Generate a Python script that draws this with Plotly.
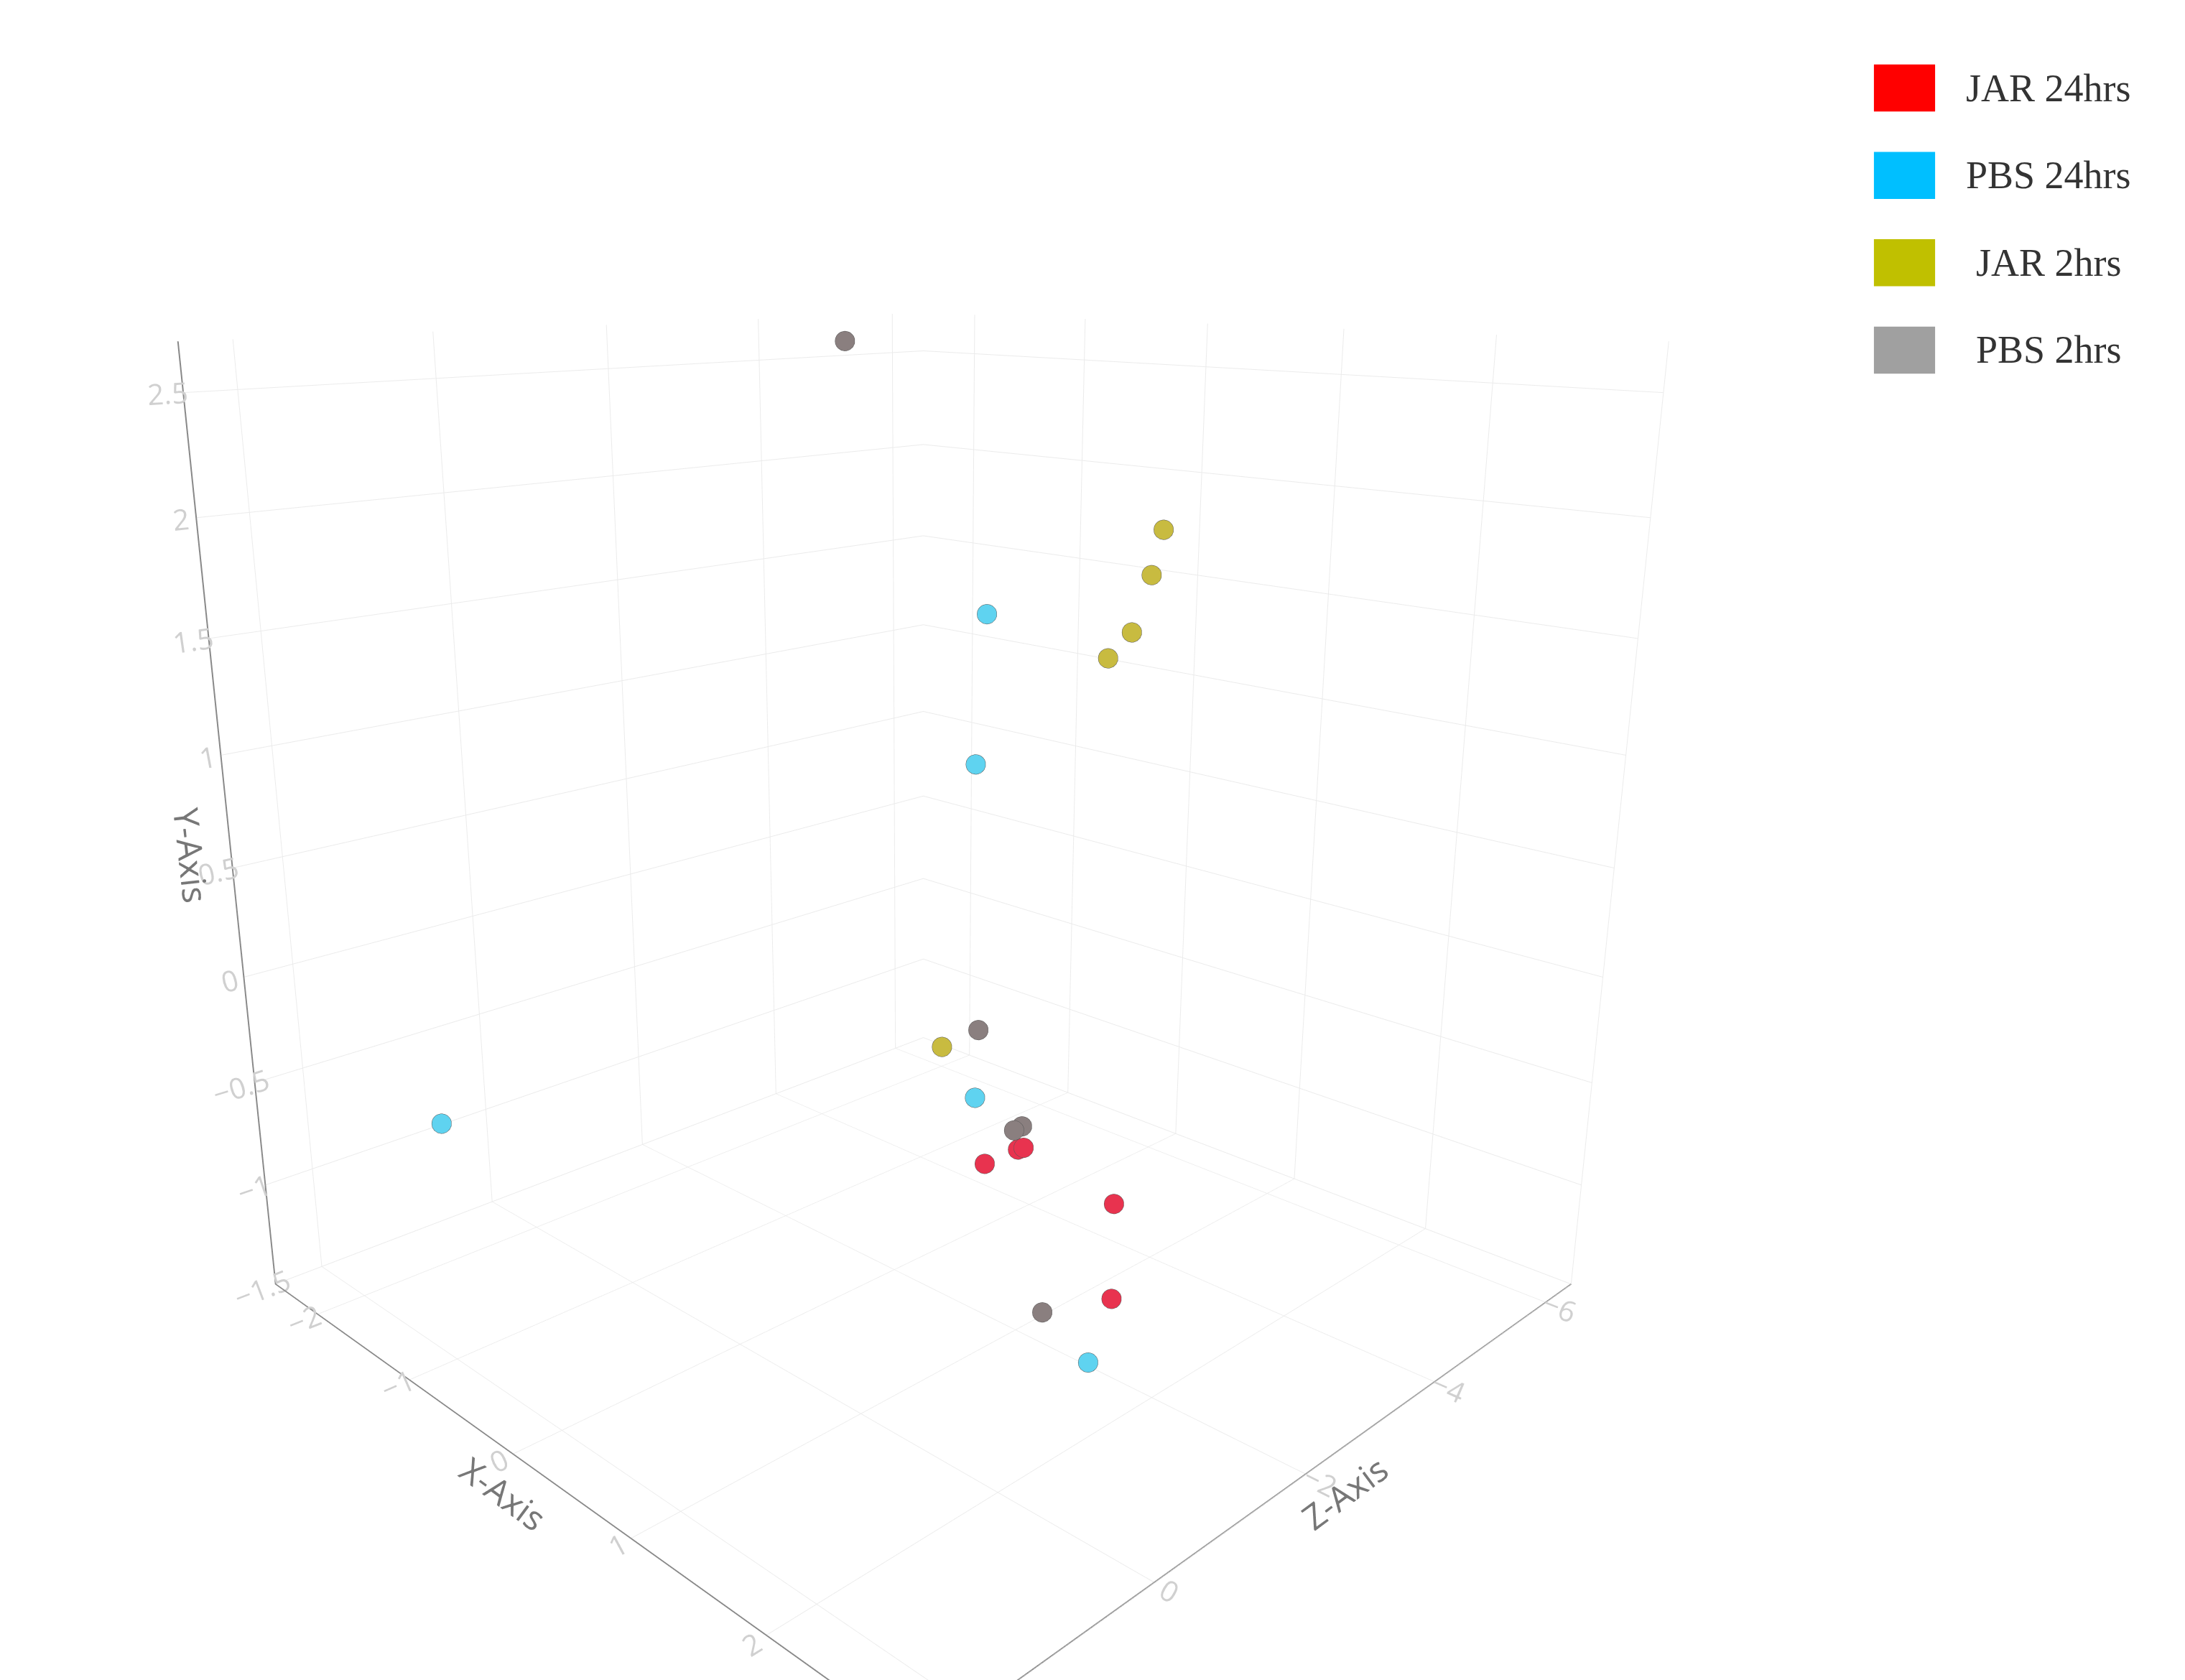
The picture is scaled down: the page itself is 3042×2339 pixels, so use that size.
import plotly.graph_objects as go

groups = ["JAR 24hrs", "PBS 24hrs", "JAR 2hrs", "PBS 2hrs"]
colors = ["#e8334f", "#5fd3f0", "#c8bb40", "#8a7f7f"]
legend_colors = ["#ff0000", "#00bfff", "#c0c000", "#a0a0a0"]

jar24_x = [1.2, 1.6, 0.6, 0.4, 0.5]
jar24_y = [-1.0, -1.2, -0.85, -0.95, -0.9]
jar24_z = [-3.0, -2.2, -2.8, -2.6, -2.9]

pbs24_x = [-1.0, -0.8, 0.2, 1.8, -1.5]
pbs24_y = [1.3, 0.6, -0.7, -1.3, -0.6]
pbs24_z = [-5.0, -4.5, -2.8, -1.5, 1.5]

jar2_x = [2.6, 2.3, 1.8, 1.3, -0.5]
jar2_y = [2.2, 2.0, 1.7, 1.5, -0.7]
jar2_z = [-0.5, -1.0, -1.8, -2.5, -3.5]

pbs2_x = [0.8, 0.3, 0.2, 1.2, -2.0]
pbs2_y = [-0.1, -0.9, -0.95, -1.35, 2.6]
pbs2_z = [-1.8, -3.2, -3.5, -2.0, -4.5]

series = [(jar24_x, jar24_y, jar24_z), (pbs24_x, pbs24_y, pbs24_z),
          (jar2_x, jar2_y, jar2_z), (pbs2_x, pbs2_y, pbs2_z)]

fig = go.Figure()
for name, col, (xs, ys, zs) in zip(groups, colors, series):
    fig.add_trace(go.Scatter3d(x=zs, y=xs, z=ys, mode="markers", name=name, showlegend=False,
                               marker=dict(size=16, color=col, line=dict(color="#555", width=2))))

def ax(title, rng):
    return dict(showbackground=False, gridcolor="#ebebeb", showline=True, linecolor="#888", linewidth=4,
                zeroline=False, tickfont=dict(size=22, color="#d0d0d0"), range=rng,
                title=dict(text=title, font=dict(size=48, color="#777", family="Open Sans")))

fig.update_layout(
    width=3042, height=2339, paper_bgcolor="white", showlegend=False,
    margin=dict(l=0, r=0, t=0, b=0),
    scene=dict(
        domain=dict(x=[0, 0.84], y=[0, 1]),
        xaxis=ax("Z-Axis", [-6.5, 2.5]),
        yaxis=ax("X-Axis", [-2.5, 3]),
        zaxis=ax("Y-Axis", [-1.5, 2.7]),
        aspectmode="cube",
        camera=dict(eye=dict(x=1.4, y=1.4, z=0.6)),
    ),
)
for i, (name, col) in enumerate(zip(groups, legend_colors)):
    y0 = 0.965 - i * 0.052
    fig.add_shape(type="rect", xref="paper", yref="paper", x0=0.855, x1=0.883,
                  y0=y0 - 0.028, y1=y0, fillcolor=col, line_width=0)
    fig.add_annotation(xref="paper", yref="paper", x=0.935, y=y0 - 0.014, text=name,
                       showarrow=False, xanchor="center", yanchor="middle",
                       font=dict(size=54, family="Liberation Serif", color="#333"))
fig.write_html("out.html")
